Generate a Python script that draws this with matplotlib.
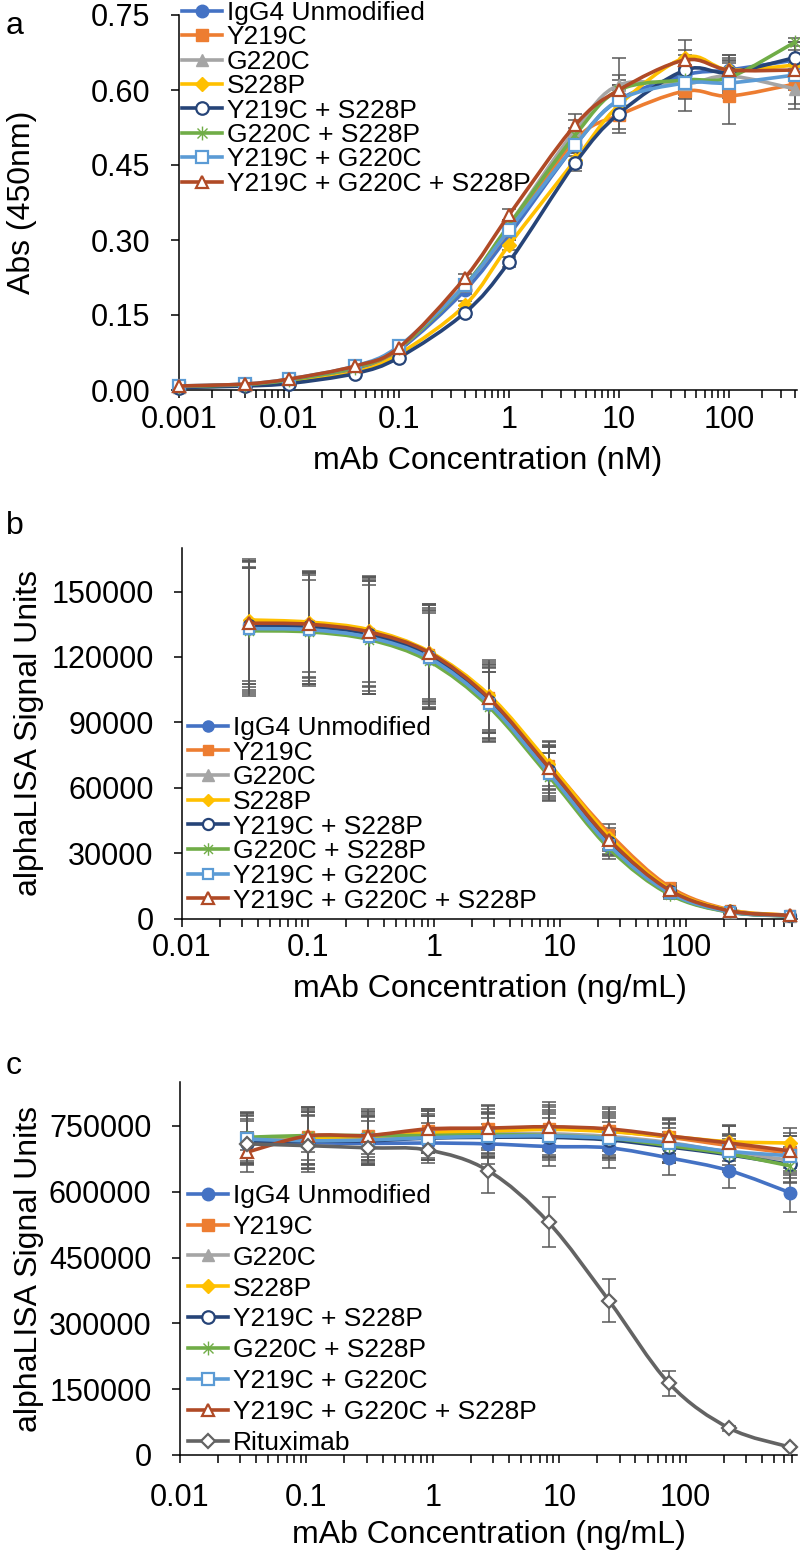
import matplotlib
matplotlib.use('Agg')
import matplotlib.pyplot as plt
import numpy as np
from matplotlib.path import Path
from matplotlib.patches import PathPatch
from matplotlib.lines import Line2D
from matplotlib.ticker import FixedLocator, FuncFormatter, LogLocator, NullFormatter

plt.rcParams['font.family'] = ['Liberation Sans', 'DejaVu Sans']

# ---------------- data ----------------
names = ['IgG4 Unmodified', 'Y219C', 'G220C', 'S228P', 'Y219C + S228P',
         'G220C + S228P', 'Y219C + G220C', 'Y219C + G220C + S228P']

# panel a : ELISA, nM
conc_a = [0.001, 0.004, 0.01, 0.04, 0.1, 0.4, 1, 4, 10, 40, 100, 400]
abs_a = [
    [0.007, 0.010, 0.018, 0.042, 0.080, 0.200, 0.310, 0.490, 0.580, 0.630, 0.640, 0.660],
    [0.007, 0.011, 0.020, 0.045, 0.083, 0.210, 0.320, 0.500, 0.550, 0.598, 0.588, 0.612],
    [0.007, 0.011, 0.020, 0.046, 0.085, 0.210, 0.330, 0.520, 0.610, 0.612, 0.628, 0.602],
    [0.006, 0.009, 0.015, 0.036, 0.072, 0.170, 0.290, 0.460, 0.570, 0.665, 0.640, 0.650],
    [0.005, 0.008, 0.013, 0.033, 0.065, 0.155, 0.256, 0.454, 0.553, 0.640, 0.635, 0.665],
    [0.007, 0.011, 0.020, 0.045, 0.084, 0.210, 0.330, 0.510, 0.600, 0.620, 0.625, 0.696],
    [0.008, 0.012, 0.022, 0.048, 0.088, 0.210, 0.320, 0.490, 0.580, 0.614, 0.614, 0.630],
    [0.008, 0.012, 0.022, 0.048, 0.085, 0.225, 0.350, 0.530, 0.600, 0.660, 0.640, 0.640],
]
err_a = [
    [0.001, 0.001, 0.002, 0.003, 0.004, 0.008, 0.010, 0.015, 0.030, 0.030, 0.030, 0.035],
    [0.001, 0.001, 0.002, 0.003, 0.004, 0.008, 0.012, 0.015, 0.035, 0.040, 0.055, 0.040],
    [0.001, 0.001, 0.002, 0.003, 0.004, 0.008, 0.010, 0.020, 0.054, 0.030, 0.030, 0.040],
    [0.001, 0.001, 0.002, 0.003, 0.004, 0.008, 0.010, 0.015, 0.030, 0.035, 0.030, 0.030],
    [0.001, 0.001, 0.002, 0.003, 0.004, 0.008, 0.010, 0.015, 0.030, 0.030, 0.030, 0.030],
    [0.001, 0.001, 0.002, 0.003, 0.004, 0.008, 0.010, 0.015, 0.030, 0.030, 0.030, 0.008],
    [0.001, 0.001, 0.002, 0.003, 0.004, 0.008, 0.010, 0.015, 0.030, 0.030, 0.030, 0.030],
    [0.001, 0.001, 0.002, 0.003, 0.004, 0.008, 0.012, 0.022, 0.020, 0.020, 0.020, 0.020],
]

# panel b and c : alphaLISA, ng/mL
conc_bc = [0.0339, 0.102, 0.305, 0.914, 2.74, 8.23, 24.7, 74.1, 222, 667]
sig_b = [
    [133000, 132500, 129000, 119000, 98000, 66000, 33000, 11500, 3000, 1200],
    [135000, 134500, 131000, 121500, 101500, 70500, 39000, 14500, 4000, 1500],
    [134000, 133500, 130000, 120000, 99500, 67500, 34500, 12000, 3200, 1300],
    [137000, 136000, 132500, 122500, 102500, 71000, 37500, 13500, 3800, 1500],
    [134500, 134000, 130500, 120500, 100000, 68000, 35000, 12500, 3400, 1300],
    [132000, 131500, 128000, 118000, 97000, 65000, 32000, 11000, 2900, 1100],
    [133000, 132500, 129000, 119500, 98500, 66500, 33500, 11800, 3100, 1200],
    [135500, 135000, 131500, 122000, 101000, 69000, 36000, 13000, 3500, 1400],
]
err_b = [
    [28000, 25000, 26000, 22000, 15000, 10000, 4000, 1800, 700, 300],
    [29000, 24000, 25000, 23000, 16000, 11000, 4500, 2000, 800, 300],
    [30000, 26000, 27000, 24000, 17000, 12000, 5000, 2200, 800, 300],
    [28000, 23000, 24000, 22000, 16000, 10000, 4000, 1800, 700, 300],
    [27000, 25000, 26000, 21000, 15000, 10500, 4200, 1900, 700, 300],
    [29000, 24000, 25000, 22000, 16000, 11000, 4500, 2000, 800, 300],
    [31000, 26000, 26000, 23000, 17000, 12000, 5000, 2100, 800, 300],
    [28000, 24000, 25000, 22000, 16000, 10000, 4000, 1800, 700, 300],
]
sig_c = [
    [715000, 712000, 710000, 711000, 709000, 703000, 700000, 677000, 648000, 598000],
    [720000, 725000, 728000, 738000, 742000, 744000, 738000, 724000, 705000, 688000],
    [722000, 722000, 722000, 728000, 732000, 732000, 726000, 712000, 690000, 672000],
    [718000, 722000, 722000, 733000, 738000, 742000, 737000, 726000, 714000, 711000],
    [712000, 715000, 716000, 722000, 724000, 724000, 718000, 702000, 684000, 662000],
    [724000, 728000, 728000, 728000, 730000, 728000, 722000, 705000, 686000, 659000],
    [720000, 716000, 718000, 723000, 726000, 727000, 722000, 710000, 692000, 682000],
    [690000, 727000, 728000, 743000, 745000, 748000, 743000, 727000, 711000, 693000],
]
err_c = [
    [50000, 60000, 50000, 45000, 45000, 45000, 45000, 40000, 40000, 45000],
    [55000, 65000, 55000, 50000, 55000, 60000, 55000, 40000, 45000, 40000],
    [60000, 70000, 60000, 55000, 50000, 55000, 50000, 45000, 40000, 40000],
    [55000, 60000, 50000, 45000, 50000, 50000, 45000, 40000, 35000, 35000],
    [50000, 60000, 55000, 50000, 45000, 45000, 40000, 35000, 35000, 40000],
    [55000, 65000, 60000, 55000, 50000, 50000, 45000, 40000, 40000, 40000],
    [60000, 70000, 55000, 50000, 50000, 55000, 50000, 45000, 40000, 45000],
    [45000, 55000, 50000, 45000, 50000, 50000, 45000, 40000, 40000, 40000],
]
ritux_c = [709000, 705000, 700000, 695000, 648000, 530000, 352000, 163000, 61000, 18000]
ritux_err = [15000, 15000, 15000, 18000, 52000, 57000, 50000, 28000, 6000, 3000]

# ---------------- styles ----------------
colors = ['#4472C4', '#ED7D31', '#A5A5A5', '#FFC000', '#264478',
          '#70AD47', '#5B9BD5', '#B04A26']
star = Path([(0, -1), (0, 1), (-0.72, -0.72), (0.72, 0.72), (-0.72, 0.72), (0.72, -0.72)],
            [Path.MOVETO, Path.LINETO] * 3)
markers = ['o', 's', '^', 'D', 'o', star, 's', '^']
msizes = [9, 8.5, 9, 7.5, 9, 10, 8.5, 9]
filled = [True, True, True, True, False, True, False, False]
err_col = '#595959'
LW = 2.6
TICK_FS = 22
LAB_FS = 23
LEG_FS = 19


def smooth_path(x, y):
    # bezier path through the points (Excel style smoothed line)
    pts = np.column_stack([np.log10(x), y]).astype(float)
    n = len(pts)
    verts = [pts[0]]
    codes = [Path.MOVETO]
    for i in range(n - 1):
        p0 = pts[i - 1] if i > 0 else pts[i]
        p1 = pts[i]
        p2 = pts[i + 1]
        p3 = pts[i + 2] if i + 2 < n else pts[i + 1]
        verts += [p1 + (p2 - p0) / 6.0, p2 - (p3 - p1) / 6.0, p2]
        codes += [Path.CURVE4] * 3
    verts = np.array(verts)
    verts[:, 0] = 10 ** verts[:, 0]
    return Path(verts, codes)


def draw_series(ax, x, y, e, col, mk, ms, fill, z):
    ax.errorbar(x, y, yerr=e, fmt='none', ecolor=err_col, elinewidth=1.1,
                capsize=5, capthick=1.1, zorder=1, clip_on=False)
    ax.add_patch(PathPatch(smooth_path(x, y), fill=False, edgecolor=col,
                           lw=LW, zorder=z, capstyle='round', clip_on=False))
    ax.plot(x, y, linestyle='none', marker=mk, ms=ms, color=col,
            mfc=col if fill else 'white', mec=col, mew=1.6 if not fill else 1.0,
            zorder=z + 0.5, clip_on=False)
    return Line2D([], [], color=col, lw=LW, marker=mk, ms=ms,
                  mfc=col if fill else 'white', mec=col, mew=1.6 if not fill else 1.0)


def style_axes(ax, xmin, xmax, xticks, ymax, yticks, yfmt, xpad=5):
    ax.set_xscale('log')
    ax.set_xlim(xmin, xmax)
    ax.set_ylim(0, ymax)
    ax.xaxis.set_major_locator(FixedLocator(xticks))
    ax.xaxis.set_major_formatter(FuncFormatter(lambda v, p: '%g' % v))
    ax.xaxis.set_minor_locator(LogLocator(base=10, subs=np.arange(2, 10), numticks=20))
    ax.xaxis.set_minor_formatter(NullFormatter())
    ax.yaxis.set_major_locator(FixedLocator(yticks))
    ax.yaxis.set_major_formatter(FuncFormatter(lambda v, p: yfmt % v))
    for s in ['top', 'right']:
        ax.spines[s].set_visible(False)
    for s in ['left', 'bottom']:
        ax.spines[s].set_linewidth(1.1)
    ax.tick_params(axis='both', which='both', direction='out', length=5.5, width=1.1,
                   labelsize=TICK_FS)
    ax.tick_params(axis='y', pad=15)
    ax.tick_params(axis='x', pad=xpad)


def legend(handles, labels, x, top, spacing):
    fig.legend(handles, labels, loc='upper left', bbox_to_anchor=(x / 800, 1 - top / 1559),
               frameon=False, fontsize=LEG_FS, handlelength=1.5, handletextpad=0.2,
               labelspacing=spacing, borderpad=0, borderaxespad=0)


fig = plt.figure(figsize=(8, 15.59), dpi=100)


def px_axes(left, top, right, bottom):
    return fig.add_axes([left / 800, 1 - bottom / 1559, (right - left) / 800, (bottom - top) / 1559])


# ---------------- panel a ----------------
ax_a = px_axes(179, 15, 797, 390)
handles = []
for i in range(8):
    handles.append(draw_series(ax_a, conc_a, abs_a[i], err_a[i], colors[i],
                               markers[i], msizes[i], filled[i], 3 + i))
style_axes(ax_a, 0.001, 415, [0.001, 0.01, 0.1, 1, 10, 100], 0.75,
           [0, 0.15, 0.30, 0.45, 0.60, 0.75], '%.2f')
ax_a.set_xlabel('mAb Concentration (nM)', fontsize=LAB_FS, labelpad=8)
ax_a.set_ylabel('Abs (450nm)', fontsize=LAB_FS)
ax_a.yaxis.set_label_coords((37 - 179) / 618, 0.5)
legend(handles, names, 182, 1, 0.015)
fig.text(6 / 800, 1 - 34 / 1559, 'a', fontsize=LAB_FS)

# ---------------- panel b ----------------
ax_b = px_axes(182, 548, 797, 918.5)
handles = []
for i in range(8):
    handles.append(draw_series(ax_b, conc_bc, sig_b[i], err_b[i], colors[i],
                               markers[i], msizes[i] - 1, filled[i], 3 + i))
style_axes(ax_b, 0.01, 760, [0.01, 0.1, 1, 10, 100], 170000,
           [0, 30000, 60000, 90000, 120000, 150000], '%d')
ax_b.set_xlabel('mAb Concentration (ng/mL)', fontsize=LAB_FS, labelpad=8)
ax_b.set_ylabel('alphaLISA Signal Units', fontsize=LAB_FS)
ax_b.yaxis.set_label_coords((44 - 182) / 615, 0.5)
legend(handles, names, 188, 716, 0.025)
fig.text(6 / 800, 1 - 534 / 1559, 'b', fontsize=LAB_FS)

# ---------------- panel c ----------------
ax_c = px_axes(180, 1082, 797, 1455)
handles = []
for i in range(8):
    handles.append(draw_series(ax_c, conc_bc, sig_c[i], err_c[i], colors[i],
                               markers[i], msizes[i], filled[i], 3 + i))
handles.append(draw_series(ax_c, conc_bc, ritux_c, ritux_err, '#636363',
                           'D', 7, False, 12))
style_axes(ax_c, 0.01, 760, [0.01, 0.1, 1, 10, 100], 850000,
           [0, 150000, 300000, 450000, 600000, 750000], '%d', xpad=15)
ax_c.set_xlabel('mAb Concentration (ng/mL)', fontsize=LAB_FS, labelpad=5)
ax_c.set_ylabel('alphaLISA Signal Units', fontsize=LAB_FS)
ax_c.yaxis.set_label_coords((44 - 180) / 617, 0.5)
legend(handles, names + ['Rituximab'], 188, 1184, 0.26)
fig.text(6 / 800, 1 - 1074 / 1559, 'c', fontsize=LAB_FS)

fig.savefig('out.png', dpi=100)
